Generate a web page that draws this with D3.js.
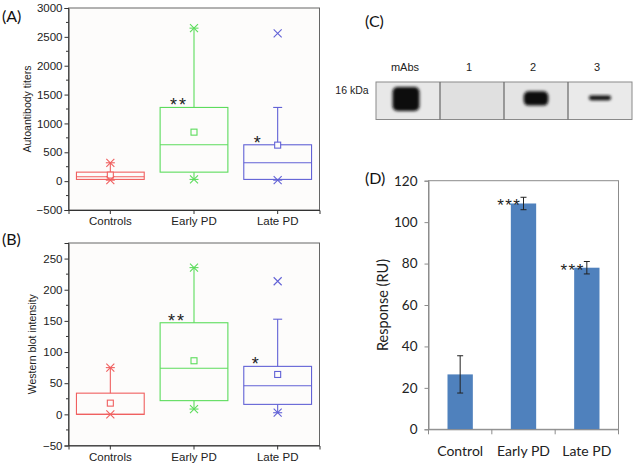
<!DOCTYPE html>
<html><head><meta charset="utf-8">
<script src="https://cdn.jsdelivr.net/npm/d3@7"></script>
<style>body{margin:0;background:#fff}svg{display:block}</style>
</head><body><svg id="c" width="634" height="466"></svg>
<script>
// ---------- data ----------
const groups = ["Controls", "Early PD", "Late PD"];
const groupColors = ["#f06060", "#5cdc5c", "#6262d6"];

// Panel A: autoantibody titers
const aQ1 = [30, 156, 30];
const aMedian = [75, 630, 318];
const aQ3 = [156, 1277, 630];
const aMean = [105, 849, 624];
const aWhiskerLow = [17, 30, 17];
const aWhiskerHigh = [318, 2651, 1277];
const aExtremeLow = [17, 30, 17];
const aExtremeHigh = [318, 2651, 2559];
const aSignif = ["", "**", "*"];
const aTicks = [-500, 0, 500, 1000, 1500, 2000, 2500, 3000];

// Panel B: western blot intensity
const bQ1 = [0, 22, 16];
const bMedian = [0, 74, 46];
const bQ3 = [34, 147, 77];
const bMean = [18, 86, 64];
const bWhiskerLow = [0, 8.5, 2.6];
const bWhiskerHigh = [75, 235.5, 152.7];
const bExtremeLow = [0, 8.5, 2.6];
const bExtremeHigh = [75, 235.5, 213.6];
const bSignif = ["", "**", "*"];
const bTicks = [-50, 0, 50, 100, 150, 200, 250];

// Panel C: western blot lanes
const blotLanes = ["mAbs", "1", "2", "3"];
const blotBand = [1.0, 0, 0.6, 0.2];
const blotMarker = "16 kDa";

// Panel D: SPR response
const dCategories = ["Control", "Early PD", "Late PD"];
const dValues = [26.5, 109, 78];
const dErrors = [9, 3, 3];
const dSignif = ["", "***", "***"];
const dTicks = [0, 20, 40, 60, 80, 100, 120];

// ---------- drawing ----------
const svg = d3.select("#c");
svg.append("rect").attr("width", 634).attr("height", 466).attr("fill", "#fff");
const ARIAL = "Liberation Sans, Arial, sans-serif";
const CAL = "Lato, Carlito, Calibri, sans-serif";

function panelLabel(txt, x, y) {
  svg.append("text").attr("x", x).attr("y", y).attr("dominant-baseline", "central")
    .attr("font-family", CAL).attr("font-size", 16).attr("fill", "#111").text(txt);
}

function boxPanel(o) {
  const x = d3.scaleBand().domain(groups).range([o.x0, o.x1]);
  const y = d3.scaleLinear().domain(o.domain).range([o.y1, o.y0]);
  const g = svg.append("g");
  g.append("rect").attr("x", o.x0).attr("y", o.y0).attr("width", o.x1 - o.x0)
    .attr("height", o.y1 - o.y0).attr("fill", "#fdfcfb").attr("stroke", "#666").attr("stroke-width", 1);

  // minor ticks
  const minors = d3.pairs(o.ticks).map(p => (p[0] + p[1]) / 2);
  g.append("g").selectAll("line").data(minors).join("line")
    .attr("x1", o.x0 - 2.5).attr("x2", o.x0).attr("y1", d => y(d)).attr("y2", d => y(d))
    .attr("stroke", "#333");

  const ya = g.append("g").attr("transform", `translate(${o.x0},0)`)
    .call(d3.axisLeft(y).tickValues(o.ticks).tickSize(4).tickPadding(2).tickFormat(d3.format("d")));
  ya.select(".domain").attr("stroke", "#333");
  ya.selectAll("line").attr("stroke", "#333");
  ya.selectAll("text").attr("font-family", ARIAL).attr("font-size", 11.5).attr("fill", "#222");

  const xa = g.append("g").attr("transform", `translate(0,${o.y1})`)
    .call(d3.axisBottom(x).tickSize(4).tickPadding(3));
  xa.select(".domain").attr("stroke", "#333");
  xa.selectAll("line").attr("stroke", "#333");
  xa.selectAll("text").attr("font-family", ARIAL).attr("font-size", 11.5).attr("fill", "#222");

  g.append("text").attr("transform", `translate(${o.titleX},${(o.y0 + o.y1) / 2}) rotate(-90)`)
    .attr("text-anchor", "middle").attr("dominant-baseline", "central")
    .attr("font-family", ARIAL).attr("font-size", 10.5).attr("fill", "#222").text(o.title);

  const bw = x.bandwidth() * 0.81;
  groups.forEach((grp, i) => {
    const cx = x(grp) + x.bandwidth() / 2;
    const c = groupColors[i];
    const bg = g.append("g").attr("stroke", c).attr("fill", "none").attr("stroke-width", 1.1);
    // whiskers
    bg.append("line").attr("x1", cx).attr("x2", cx).attr("y1", y(o.q3[i])).attr("y2", y(o.wHi[i]));
    bg.append("line").attr("x1", cx).attr("x2", cx).attr("y1", y(o.q1[i])).attr("y2", y(o.wLo[i]));
    [o.wHi[i], o.wLo[i]].forEach(v => {
      bg.append("line").attr("x1", cx - 4.5).attr("x2", cx + 4.5).attr("y1", y(v)).attr("y2", y(v));
    });
    // box
    bg.append("rect").attr("x", cx - bw / 2).attr("y", y(o.q3[i])).attr("width", bw)
      .attr("height", y(o.q1[i]) - y(o.q3[i]));
    bg.append("line").attr("x1", cx - bw / 2).attr("x2", cx + bw / 2)
      .attr("y1", y(o.med[i])).attr("y2", y(o.med[i]));
    // mean
    bg.append("rect").attr("x", cx - 3).attr("y", y(o.mean[i]) - 3).attr("width", 6).attr("height", 6)
      .attr("fill", "#fdfcfb");
    // extreme crosses
    [o.exHi[i], o.exLo[i]].forEach(v => {
      const yy = y(v);
      bg.append("path").attr("d", `M${cx - 4},${yy - 4}L${cx + 4},${yy + 4}M${cx - 4},${yy + 4}L${cx + 4},${yy - 4}`);
    });
    if (o.sig[i]) {
      g.append("text").attr("x", cx - bw / 2 + o.sigDx).attr("y", y(o.q3[i]) + 4)
        .attr("text-anchor", "start").attr("font-family", ARIAL).attr("font-size", 18)
        .attr("letter-spacing", 2).attr("fill", "#222").text(o.sig[i]);
    }
  });
}

boxPanel({x0: 68.5, x1: 319.5, y0: 8, y1: 210, domain: [-500, 3000], ticks: aTicks,
  q1: aQ1, med: aMedian, q3: aQ3, mean: aMean, wLo: aWhiskerLow, wHi: aWhiskerHigh,
  exLo: aExtremeLow, exHi: aExtremeHigh, sig: aSignif, sigDx: 10, title: "Autoantibody titers", titleX: 27});
boxPanel({x0: 68.5, x1: 319.5, y0: 243, y1: 445.5, domain: [-50, 275], ticks: bTicks,
  q1: bQ1, med: bMedian, q3: bQ3, mean: bMean, wLo: bWhiskerLow, wHi: bWhiskerHigh,
  exLo: bExtremeLow, exHi: bExtremeHigh, sig: bSignif, sigDx: 8, title: "Western blot intensity", titleX: 32});
panelLabel("(A)", 2, 15);
panelLabel("(B)", 2, 238);

// ---------- Panel C ----------
(function () {
  const defs = svg.append("defs");
  defs.append("filter").attr("id", "blur").attr("x", "-50%").attr("y", "-50%").attr("width", "200%").attr("height", "200%")
    .append("feGaussianBlur").attr("stdDeviation", 1.5);
  const x = d3.scaleBand().domain(blotLanes).range([376, 632]);
  const top = 82, bot = 119.5;
  const shades = ["#e8e8e8", "#e0e0e0", "#e4e4e4", "#eaeaea"];
  const g = svg.append("g");
  g.selectAll("rect.lane").data(blotLanes).join("rect").attr("class", "lane")
    .attr("x", d => x(d)).attr("y", top).attr("width", x.bandwidth()).attr("height", bot - top)
    .attr("fill", (d, i) => shades[i]);
  const hScale = d3.scaleLinear().domain([0, 1]).range([0, 24]);
  const wScale = d3.scaleLinear().domain([0, 1]).range([21, 27]);
  const bandCy = d3.scaleLinear().domain([0, 1]).range([97.5, 99]);
  blotLanes.forEach((l, i) => {
    const s = blotBand[i];
    if (s <= 0) return;
    const cx = x(l) + x.bandwidth() / 2 - (i === 0 ? 2 : 0);
    g.append("rect").attr("x", cx - wScale(s) / 2).attr("y", bandCy(s) - hScale(s) / 2)
      .attr("width", wScale(s)).attr("height", hScale(s)).attr("rx", Math.min(5, hScale(s) / 2))
      .attr("fill", "#101010").attr("filter", "url(#blur)");
  });
  g.append("rect").attr("x", 376).attr("y", top).attr("width", 256).attr("height", bot - top)
    .attr("fill", "none").attr("stroke", "#8a8a8a").attr("stroke-width", 1);
  g.selectAll("line.div").data(blotLanes.slice(1)).join("line").attr("class", "div")
    .attr("x1", d => x(d)).attr("x2", d => x(d)).attr("y1", top).attr("y2", bot)
    .attr("stroke", "#707070").attr("stroke-width", 1.3);
  g.selectAll("text.lane").data(blotLanes).join("text").attr("class", "lane")
    .attr("x", d => x(d) + x.bandwidth() / 2 - 3).attr("y", 67).attr("text-anchor", "middle")
    .attr("dominant-baseline", "central").attr("font-family", ARIAL).attr("font-size", 11).attr("fill", "#222")
    .text(d => d);
  g.append("text").attr("x", 352).attr("y", 90).attr("text-anchor", "middle").attr("dominant-baseline", "central")
    .attr("font-family", ARIAL).attr("font-size", 10.5).attr("fill", "#222").text(blotMarker);
  panelLabel("(C)", 365, 20);
})();

// ---------- Panel D ----------
(function () {
  const x0 = 428.5, x1 = 618.5, y0 = 180.7, y1 = 429.3;
  const x = d3.scaleBand().domain(dCategories).range([x0, x1]).paddingInner(0.6).paddingOuter(0.3);
  const xb = d3.scaleBand().domain(dCategories).range([x0, x1]);
  const y = d3.scaleLinear().domain([0, 120]).range([y1, y0]);
  const g = svg.append("g");
  g.append("rect").attr("x", x0).attr("y", y0).attr("width", x1 - x0).attr("height", y1 - y0)
    .attr("fill", "#fff").attr("stroke", "#8c8c8c");
  g.selectAll("rect.bar").data(dValues).join("rect").attr("class", "bar")
    .attr("x", (d, i) => x(dCategories[i])).attr("width", x.bandwidth())
    .attr("y", d => y(d)).attr("height", d => y(0) - y(d)).attr("fill", "#4f81bd");
  const ya = g.append("g").attr("transform", `translate(${x0},0)`)
    .call(d3.axisLeft(y).tickValues(dTicks).tickSize(4).tickPadding(7));
  ya.select(".domain").attr("stroke", "#8c8c8c");
  ya.selectAll("line").attr("stroke", "#8c8c8c");
  ya.selectAll("text").attr("font-family", CAL).attr("font-size", 13.5).attr("fill", "#222");
  const xa = g.append("g").attr("transform", `translate(0,${y1})`)
    .call(d3.axisBottom(xb).tickSize(0).tickPadding(17));
  xa.select(".domain").attr("stroke", "#8c8c8c");
  xa.selectAll("text").attr("font-family", CAL).attr("font-size", 14).attr("fill", "#222");
  // boundary ticks
  g.selectAll("line.bt").data(dCategories.concat([null])).join("line").attr("class", "bt")
    .attr("x1", (d, i) => i < 3 ? xb(d) : x1).attr("x2", (d, i) => i < 3 ? xb(d) : x1)
    .attr("y1", y1).attr("y2", y1 + 5).attr("stroke", "#8c8c8c");
  // error bars
  dValues.forEach((v, i) => {
    const cx = x(dCategories[i]) + x.bandwidth() / 2;
    const e = dErrors[i];
    const eg = g.append("g").attr("stroke", "#222").attr("stroke-width", 1);
    eg.append("line").attr("x1", cx).attr("x2", cx).attr("y1", y(v + e)).attr("y2", y(v - e));
    eg.append("line").attr("x1", cx - 3).attr("x2", cx + 3).attr("y1", y(v + e)).attr("y2", y(v + e));
    eg.append("line").attr("x1", cx - 3).attr("x2", cx + 3).attr("y1", y(v - e)).attr("y2", y(v - e));
    if (dSignif[i]) {
      g.append("text").attr("x", cx - 2).attr("y", y(v) + 8).attr("text-anchor", "end")
        .attr("font-family", ARIAL).attr("font-size", 17).attr("letter-spacing", 1.5)
        .attr("fill", "#222").text(dSignif[i]);
    }
  });
  g.append("text").attr("transform", `translate(382,${(y0 + y1) / 2}) rotate(-90)`)
    .attr("text-anchor", "middle").attr("dominant-baseline", "central")
    .attr("font-family", CAL).attr("font-size", 14.5).attr("fill", "#222").text("Response (RU)");
  panelLabel("(D)", 365, 177);
})();
</script>
</body></html>
